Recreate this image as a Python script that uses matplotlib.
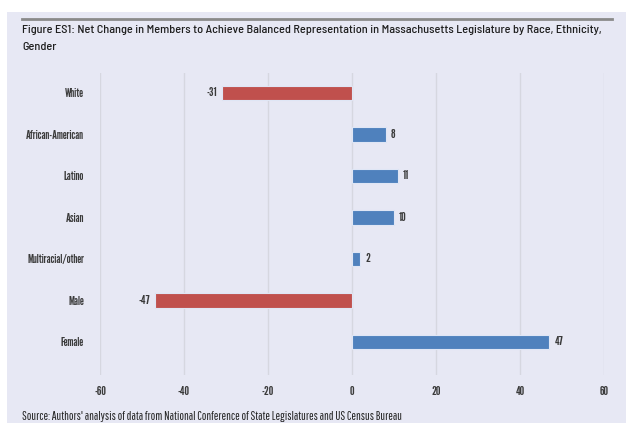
import matplotlib
matplotlib.use("Agg")
import matplotlib.pyplot as plt
from matplotlib.patches import Rectangle
from matplotlib.lines import Line2D
from matplotlib import font_manager

categories = ["White", "African-American", "Latino", "Asian", "Multiracial/other", "Male", "Female"]
net_change = [-31, 8, 11, 10, 2, -47, 47]
x_ticks = [-60, -40, -20, 0, 20, 40, 60]

title = ("Figure ES1: Net Change in Members to Achieve Balanced Representation in "
         "Massachusetts Legislature by Race, Ethnicity,\nGender")
source = "Source: Authors' analysis of data from National Conference of State Legislatures and US Census Bureau"

names = {f.name for f in font_manager.fontManager.ttflist}


def pick(*cands):
    for c in cands:
        if c in names:
            return [c, "DejaVu Sans"]
    return ["DejaVu Sans"]


TITLE_FONT = pick("Barlow Semi Condensed", "Barlow Condensed", "Archivo Narrow")
LABEL_FONT = pick("League Gothic", "Pathway Gothic One", "Oswald", "Barlow Condensed")
SOURCE_FONT = pick("Pathway Gothic One", "Barlow Condensed", "Archivo Narrow")
plt.rcParams["font.family"] = LABEL_FONT

BG = "#e7e8f4"
RED = "#c0504d"
BLUE = "#4f81bd"
TEXT = "#3a3a3a"

fig = plt.figure(figsize=(6.26, 4.23), dpi=100)
fig.patch.set_facecolor("white")
W, H = 626, 423

# lavender panel behind everything
fig.patches.append(Rectangle((7 / W, 0), 1 - 7 / W, 1 - 12 / H, transform=fig.transFigure,
                             facecolor=BG, edgecolor="none", zorder=-5))
# rule above the title
fig.lines.append(Line2D([22 / W, 612 / W], [1 - 19 / H, 1 - 19 / H], transform=fig.transFigure,
                        color="#8a8a8a", lw=2, zorder=1))

fig.text(22 / W, 1 - 25 / H, title, ha="left", va="top", fontsize=8.8, color="#1e1e1e",
         linespacing=1.85, family=TITLE_FONT, fontweight="medium")
src = fig.text(22 / W, 1 - 411 / H, source, ha="left", va="top", fontsize=9.5, color="#222222",
               family=SOURCE_FONT)

ax = fig.add_axes([100 / W, 1 - 375 / H, 504 / W, 302 / H])
ax.patch.set_visible(False)

y = list(range(len(categories)))
colors = [RED if v < 0 else BLUE for v in net_change]
ax.barh(y, net_change, height=0.35, color=colors, edgecolor="#dfe6f5", linewidth=0.8, zorder=3)

for yi, v in zip(y, net_change):
    if v < 0:
        ax.annotate(str(v), (v, yi), xytext=(-3.5, 0), textcoords="offset points",
                    ha="right", va="center", fontsize=9.5, color=TEXT)
    else:
        ax.annotate(str(v), (v, yi), xytext=(3.5, 0), textcoords="offset points",
                    ha="left", va="center", fontsize=9.5, color=TEXT)

ax.set_xlim(-60, 60)
ax.set_ylim(6.8, -0.48)
ax.set_xticks(x_ticks)
ax.set_xticklabels([str(t) for t in x_ticks])
ax.set_yticks(y)
ax.set_yticklabels(categories)
ax.tick_params(axis="x", length=0, pad=8, labelsize=9.5, labelcolor=TEXT)
ax.tick_params(axis="y", length=0, pad=11.5, labelsize=9, labelcolor=TEXT)
ax.grid(axis="x", color="#d6d7e0", lw=1, zorder=0)
ax.set_axisbelow(True)
for s in ax.spines.values():
    s.set_visible(False)

# keep the source line at its printed width
fig.canvas.draw()
bb = src.get_window_extent()
src.set_fontsize(9.5 * min(1.0, 383 / bb.width))

fig.savefig("out.png", dpi=100, facecolor="white")
